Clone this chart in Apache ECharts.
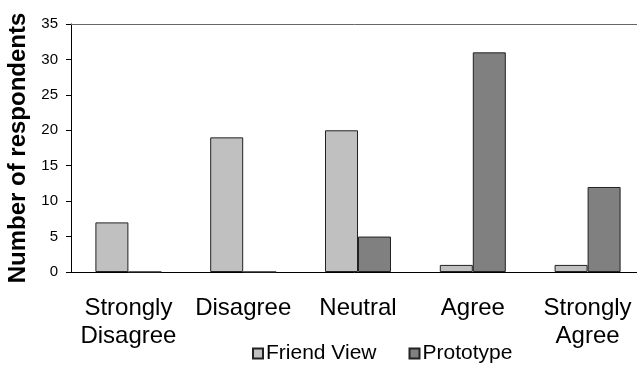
<!DOCTYPE html>
<html>
<head>
<meta charset="utf-8">
<style>
	html, body { margin: 0; padding: 0; background: #fff; }
	#chart { width: 637px; height: 365px; }
</style>
<script src="https://cdn.jsdelivr.net/npm/echarts@6/dist/echarts.min.js"></script>
</head>
<body>
<div id="chart"></div>
<script type="text/javascript">
	// 数据
	var categories = ['Strongly\nDisagree', 'Disagree', 'Neutral', 'Agree', 'Strongly\nAgree'];
	var friendView = [7, 19, 20, 1, 1];
	var prototype = [0, 0, 5, 31, 12];
	var seriesNames = ['Friend View', 'Prototype'];

	var font = 'Liberation Sans, Arial, sans-serif';

	var chart = echarts.init(document.getElementById('chart'));
	chart.setOption({
		animation: false,
		// 绘图区右侧超出画布（原图被裁切）
		grid: { left: 71, width: 574, top: 24, bottom: 93, outerBoundsMode: 'none', containLabel: false },
		legend: {
			left: 247,
			top: 338,
			itemWidth: 10,
			itemHeight: 10,
			itemGap: 32,
			icon: 'rect',
			textStyle: { fontFamily: font, fontSize: 21, color: '#000', padding: [0, 0, 0, -2] },
			data: seriesNames
		},
		xAxis: [{
			type: 'category',
			data: categories,
			axisLine: { lineStyle: { color: '#000', width: 1 } },
			axisTick: { length: 8, lineStyle: { color: '#000' } },
			axisLabel: {
				interval: 0,
				margin: 22,
				fontFamily: font,
				fontSize: 24,
				lineHeight: 28,
				color: '#000'
			}
		}, {
			// 顶部边框
			type: 'category',
			position: 'top',
			data: categories,
			axisLine: { lineStyle: { color: '#666', width: 1 } },
			axisTick: { show: false },
			axisLabel: { show: false }
		}],
		yAxis: {
			type: 'value',
			min: 0,
			max: 35,
			interval: 5,
			name: 'Number of respondents',
			nameLocation: 'middle',
			nameGap: 41,
			nameTextStyle: { fontFamily: font, fontSize: 24, fontWeight: 'bold', color: '#000' },
			axisLine: { show: true, lineStyle: { color: '#000' } },
			axisTick: { show: true, length: 5, lineStyle: { color: '#000' } },
			axisLabel: { margin: 13, fontFamily: font, fontSize: 15, color: '#000' },
			splitLine: { show: false }
		},
		series: [{
			name: seriesNames[0],
			type: 'bar',
			data: friendView,
			barWidth: 33,
			barGap: '0%',
			itemStyle: { color: '#c0c0c0', borderColor: '#222', borderWidth: 1 }
		}, {
			name: seriesNames[1],
			type: 'bar',
			data: prototype,
			barWidth: 33,
			barGap: '0%',
			itemStyle: { color: '#808080', borderColor: '#222', borderWidth: 1 }
		}]
	});
</script>
</body>
</html>
